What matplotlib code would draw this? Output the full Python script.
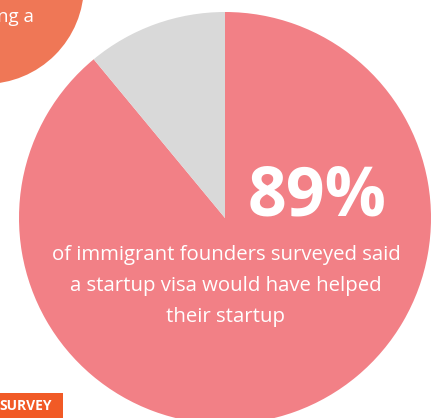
import matplotlib
matplotlib.use("Agg")
import matplotlib.pyplot as plt
from matplotlib.patches import Circle, Rectangle

W, H = 437, 418

# Survey result
labels = ["Would have helped", "Would not"]
shares = [89, 11]
colors = ["#F28086", "#D9D9D9"]

headline = "89%"
caption = "of immigrant founders surveyed said\na startup visa would have helped\ntheir startup"
corner_text = "ng a"
tag_text = "SURVEY"

fig = plt.figure(figsize=(W / 100, H / 100), dpi=100)
ax = fig.add_axes([0, 0, 1, 1])

# Decorative orange bubble in the corner
ax.add_patch(Circle((-15, H + 15), 99, color="#EF7756", lw=0, zorder=1))
ax.text(-3, H - 22, corner_text, color="white", fontsize=13.5,
        family="Open Sans", ha="left", va="baseline", zorder=2)

# Main pie
ax.pie(shares, colors=colors, startangle=90, counterclock=False,
       center=(225, H - 218), radius=206, frame=True,
       wedgeprops=dict(linewidth=0))
ax.set_xlim(0, W)
ax.set_ylim(0, H)
ax.set_aspect("equal")
ax.axis("off")

ax.text(317, H - 198, headline, color="white", fontsize=49, fontweight="bold",
        family="Open Sans", ha="center", va="center", zorder=3)
ax.text(226, H - 286, caption, color="white", fontsize=14.7,
        family="Open Sans", ha="center", va="center", linespacing=1.75, zorder=3)

# Section tag
ax.add_patch(Rectangle((0, 0), 63, 25, color="#F15A26", lw=0, zorder=4))
ax.text(-1, 12, tag_text, color="white", fontsize=10, fontweight="bold",
        family="Open Sans", ha="left", va="center", zorder=5)

fig.savefig("out.png", dpi=100)
